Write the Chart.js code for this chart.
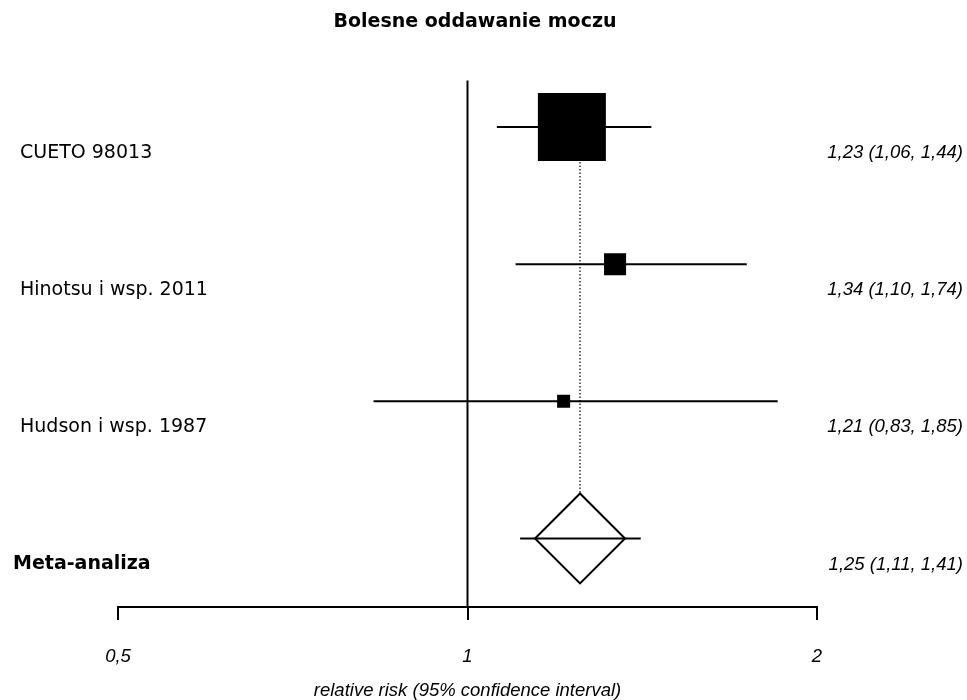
<!DOCTYPE html>
<html>
<head>
<meta charset="utf-8">
<script src="https://cdn.jsdelivr.net/npm/chart.js@4.4.1/dist/chart.umd.min.js"></script>
<style>
  body { margin: 0; background: #fff; }
</style>
</head>
<body>
<canvas id="forest" width="967" height="700"></canvas>
<script>
// data
const studies = ['CUETO 98013', 'Hinotsu i wsp. 2011', 'Hudson i wsp. 1987'];
const rr = [1.23, 1.34, 1.21];
const ciLow = [1.06, 1.10, 0.83];
const ciHigh = [1.44, 1.74, 1.85];
const weights = [87.6, 9.2, 3.2];

const pooledName = 'Meta-analiza';
const pooledRR = 1.25;
const pooledLow = 1.11;
const pooledHigh = 1.41;

const tickValues = [0.5, 1, 2];
const chartTitle = 'Bolesne oddawanie moczu';
const axisTitle = 'relative risk (95% confidence interval)';

const fmt = v => v.toFixed(2).replace('.', ',');
const tickFmt = v => String(v).replace('.', ',');

const pooledRow = studies.length;
const maxW = Math.max(...weights);
const maxSide = 68;

const datasets = [];

// reference line at 1
datasets.push({
    type: 'line',
    data: [{ x: 1, y: -0.34 }, { x: 1, y: pooledRow + 0.5 }],
    borderColor: '#000',
    borderWidth: 2,
    pointRadius: 0,
    order: 6
});

// dotted line at pooled estimate
datasets.push({
    type: 'line',
    data: [{ x: pooledRR, y: 0 }, { x: pooledRR, y: pooledRow }],
    borderColor: '#000',
    borderWidth: 1.2,
    borderDash: [1.5, 2],
    pointRadius: 0,
    order: 6
});

// pooled diamond
datasets.push({
    type: 'scatter',
    data: [{ x: pooledRR, y: pooledRow }],
    pointStyle: 'rectRot',
    pointRadius: 45,
    backgroundColor: '#fff',
    borderColor: '#000',
    borderWidth: 2,
    order: 5
});

// confidence intervals
studies.forEach((s, i) => {
    datasets.push({
        type: 'line',
        data: [{ x: ciLow[i], y: i }, { x: ciHigh[i], y: i }],
        borderColor: '#000',
        borderWidth: 2,
        pointRadius: 0,
        order: 4
    });
});
datasets.push({
    type: 'line',
    data: [{ x: pooledLow, y: pooledRow }, { x: pooledHigh, y: pooledRow }],
    borderColor: '#000',
    borderWidth: 2,
    pointRadius: 0,
    order: 4
});

// study squares, area proportional to weight
datasets.push({
    type: 'scatter',
    data: rr.map((v, i) => ({ x: v, y: i })),
    pointStyle: 'rect',
    pointRadius: weights.map(w => maxSide * Math.sqrt(w / maxW) / Math.SQRT2),
    backgroundColor: '#000',
    borderWidth: 0,
    order: 1
});

const rowLabels = {
    id: 'rowLabels',
    afterDraw(chart) {
        const ctx = chart.ctx;
        const y = chart.scales.y;
        ctx.save();
        ctx.fillStyle = '#000';
        ctx.textBaseline = 'middle';

        ctx.font = 'bold 19px "DejaVu Sans"';
        ctx.textAlign = 'center';
        ctx.fillText(chartTitle, 475, 22);

        studies.forEach((s, i) => {
            const py = y.getPixelForValue(i) + 26;
            ctx.font = '19px "DejaVu Sans"';
            ctx.textAlign = 'left';
            ctx.fillText(s, 20, py);
            ctx.font = 'italic 18.5px "Liberation Sans"';
            ctx.textAlign = 'right';
            ctx.fillText(fmt(rr[i]) + ' (' + fmt(ciLow[i]) + ', ' + fmt(ciHigh[i]) + ')', 963, py);
        });
        const pp = y.getPixelForValue(pooledRow) + 26;
        ctx.font = 'bold 19px "DejaVu Sans"';
        ctx.textAlign = 'left';
        ctx.fillText(pooledName, 13, pp);
        ctx.font = 'italic 18.5px "Liberation Sans"';
        ctx.textAlign = 'right';
        ctx.fillText(fmt(pooledRR) + ' (' + fmt(pooledLow) + ', ' + fmt(pooledHigh) + ')', 963, pp);
        ctx.restore();
    }
};

new Chart(document.getElementById('forest'), {
    data: { datasets: datasets },
    options: {
        responsive: false,
        animation: false,
        events: [],
        layout: { padding: { left: 118, right: 150, top: 58.5, bottom: 0 } },
        plugins: {
            legend: { display: false },
            tooltip: { enabled: false },
            title: { display: false }
        },
        scales: {
            x: {
                type: 'logarithmic',
                min: 0.5,
                max: 2,
                afterBuildTicks: scale => { scale.ticks = tickValues.map(v => ({ value: v })); },
                border: { display: true, color: '#000', width: 2 },
                grid: { display: true, drawOnChartArea: false, drawTicks: true, tickLength: 13, color: '#000', lineWidth: 2 },
                ticks: {
                    color: '#000',
                    padding: 28,
                    maxRotation: 0,
                    autoSkip: false,
                    font: { family: 'Liberation Sans', size: 18.5, style: 'italic', lineHeight: 1 },
                    callback: v => tickFmt(v)
                },
                title: {
                    display: true,
                    text: axisTitle,
                    color: '#000',
                    font: { family: 'Liberation Sans', size: 18.5, style: 'italic', lineHeight: 1 },
                    // tick padding is counted twice in the axis height, take it back here
                    padding: { top: -13, bottom: 0 }
                }
            },
            y: {
                type: 'linear',
                display: false,
                reverse: true,
                min: -0.5,
                max: pooledRow + 0.5
            }
        }
    },
    plugins: [rowLabels]
});
</script>
</body>
</html>
